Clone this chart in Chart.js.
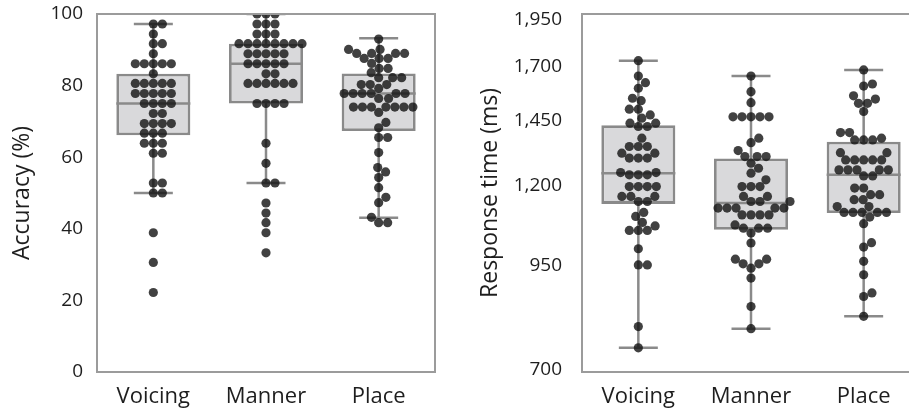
<!DOCTYPE html>
<html>
<head>
<meta charset="utf-8">
<script src="https://cdn.jsdelivr.net/npm/chart.js@4.4.1/dist/chart.umd.min.js"></script>
<style>
  body { margin: 0; background: #fff; }
  #wrap { position: relative; width: 909px; height: 409px; overflow: hidden; }
  .panel { position: absolute; top: 0; height: 409px; }
  #left { left: 0; width: 450px; }
  #right { left: 455px; width: 480px; }
</style>
</head>
<body>
<div id="wrap">
  <div class="panel" id="left"><canvas id="chartAcc"></canvas></div>
  <div class="panel" id="right"><canvas id="chartRT"></canvas></div>
</div>
<script>
// categorias
const groups = ['Voicing', 'Manner', 'Place'];

// acurácia (%) por participante
const voicingAcc = [97.2, 97.2, 94.4, 91.7, 91.7, 88.9, 86.1, 86.1, 86.1, 86.1, 86.1, 83.3,
  80.6, 80.6, 80.6, 80.6, 80.6, 77.8, 77.8, 77.8, 77.8, 77.8, 75.0, 75.0, 75.0, 75.0,
  72.2, 72.2, 69.4, 69.4, 69.4, 69.4, 66.7, 66.7, 66.7, 63.9, 63.9, 63.9, 61.1, 61.1,
  52.8, 52.8, 50.0, 50.0, 38.9, 30.6, 22.2];
const mannerAcc = [100, 100, 100, 97.2, 97.2, 97.2, 94.4, 94.4, 94.4,
  91.7, 91.7, 91.7, 91.7, 91.7, 91.7, 91.7, 91.7, 88.9, 88.9, 88.9, 88.9, 88.9,
  86.1, 86.1, 86.1, 86.1, 86.1, 83.3, 83.3, 80.6, 80.6, 80.6, 80.6, 80.6, 80.6,
  75.0, 75.0, 75.0, 75.0, 63.9, 58.3, 52.8, 52.8, 47.2, 44.4, 41.7, 38.9, 33.3];
const placeAcc = [93.0, 90.1, 90.1, 89.0, 89.0, 89.0, 89.0, 87.6, 87.6, 87.6, 86.2, 84.8, 84.8,
  83.6, 82.2, 82.2, 82.2, 80.3, 80.3, 80.3, 79.2, 77.8, 77.8, 77.8, 77.8, 77.8, 77.8,
  76.4, 76.4, 74.0, 74.0, 74.0, 74.0, 74.0, 74.0, 74.0, 72.5, 69.7, 68.2, 65.5, 65.5,
  61.3, 57.1, 55.9, 54.3, 51.5, 48.8, 47.3, 43.2, 41.7, 41.7];

// estatísticas do boxplot
const accLow = [50.0, 52.8, 43.1];
const accQ1 = [66.1, 75.0, 67.3];
const accMedian = [75.0, 86.1, 77.8];
const accQ3 = [83.3, 91.7, 83.4];
const accHigh = [97.2, 100, 93.2];
const accTicks = [0, 20, 40, 60, 80, 100];

// tempo de resposta (ms) por participante
const voicingRT = [1730, 1654, 1622, 1596, 1550, 1539, 1501, 1501, 1476, 1462, 1441, 1441,
  1427, 1427, 1379, 1346, 1346, 1346, 1320, 1320, 1301, 1301, 1301, 1247, 1247,
  1239, 1239, 1239, 1197, 1197, 1197, 1197, 1163, 1163, 1163, 1146, 1146,
  1110, 1097, 1078, 1067, 1053, 1053, 1053, 998, 952, 952, 795, 747];
const mannerRT = [1654, 1580, 1530, 1468, 1468, 1468, 1468, 1468, 1379, 1361, 1330,
  1307, 1307, 1307, 1282, 1263, 1245, 1221, 1197, 1197, 1197, 1163, 1163,
  1146, 1146, 1146, 1124, 1124, 1124, 1124, 1124, 1102, 1102, 1102, 1102,
  1070, 1060, 1060, 1060, 1045, 1015, 968, 968, 955, 955, 943, 916, 843, 790];
const placeRT = [1684, 1616, 1606, 1561, 1546, 1527, 1527, 1491, 1402, 1402, 1379,
  1372, 1372, 1372, 1322, 1322, 1294, 1294, 1294, 1294, 1294, 1257, 1257, 1257, 1257, 1257,
  1235, 1235, 1192, 1192, 1169, 1169, 1152, 1152, 1129, 1129, 1110, 1110, 1110, 1110, 1110,
  1095, 1074, 1016, 1003, 962, 925, 877, 868, 819];

const rtLow = [747, 790, 819];
const rtQ1 = [1138, 1055, 1108];
const rtMedian = [1245, 1141, 1239];
const rtQ3 = [1432, 1300, 1365];
const rtHigh = [1730, 1654, 1684];
const rtTicks = [700, 950, 1200, 1450, 1700, 1950];

// estilo
const FONT = "'Open Sans', sans-serif";
const TEXT = '#1e1e1e';
const LINE_GRAY = '#8a8a8a';
const BOX_FILL = '#d9d9db';
const DOT = 4.6;
const BOX_W = 0.657;
const CAP_HALF = 0.173;

// moldura em volta da área do gráfico
const framePlugin = {
    id: 'frame',
    afterDraw(chart) {
        const { ctx, chartArea: a } = chart;
        ctx.save();
        ctx.strokeStyle = '#9b9b9b';
        ctx.lineWidth = 2;
        ctx.strokeRect(a.left, a.top, a.right - a.left, a.bottom - a.top);
        ctx.restore();
    }
};

function whiskerData(low, high) {
    const pts = [];
    low.forEach((lo, i) => {
        pts.push({ x: i, y: lo }, { x: i, y: high[i] }, { x: i, y: null });
        pts.push({ x: i - CAP_HALF, y: high[i] }, { x: i + CAP_HALF, y: high[i] }, { x: i, y: null });
        pts.push({ x: i - CAP_HALF, y: lo }, { x: i + CAP_HALF, y: lo }, { x: i, y: null });
    });
    return pts;
}

function medianData(med) {
    const pts = [];
    med.forEach((m, i) => {
        pts.push({ x: i - BOX_W / 2, y: m }, { x: i + BOX_W / 2, y: m }, { x: i, y: null });
    });
    return pts;
}

// posições tipo "swarm" (em pixels) a partir dos valores já convertidos
function swarmOffsets(ys, d) {
    const order = ys.map((y, k) => k).sort((a, b) => ys[b] - ys[a]);
    const placed = [];
    const out = new Array(ys.length);
    order.forEach(k => {
        const y = ys[k];
        const near = placed.filter(p => Math.abs(p.y - y) < d);
        const cands = [0];
        near.forEach(p => {
            const dx = Math.sqrt(d * d - (p.y - y) * (p.y - y));
            cands.push(p.x + dx, p.x - dx);
        });
        cands.sort((a, b) => Math.abs(a) - Math.abs(b));
        let x = cands.find(c => near.every(p => (p.x - c) ** 2 + (p.y - y) ** 2 >= d * d - 0.01));
        if (x === undefined) x = cands[cands.length - 1];
        placed.push({ x, y });
        out[k] = x;
    });
    return out;
}

function applySwarm(chart, series) {
    const xs = chart.scales.x, ys = chart.scales.y;
    const unit = xs.getPixelForValue(1) - xs.getPixelForValue(0);
    const pts = [];
    series.forEach((vals, i) => {
        const off = swarmOffsets(vals.map(v => ys.getPixelForValue(v)), 9);
        vals.forEach((v, k) => pts.push({ x: i + off[k] / unit, y: v }));
    });
    chart.data.datasets[0].data = pts;
    chart.update('none');
}

function makeChart(id, cfg) {
    const chart = new Chart(document.getElementById(id), {
        type: 'bar',
        data: {
            datasets: [
                {
                    type: 'scatter',
                    data: [],
                    pointRadius: DOT,
                    pointHoverRadius: DOT,
                    backgroundColor: 'rgba(18,18,18,0.8)',
                    borderWidth: 0,
                    clip: 0,
                    order: 0
                },
                {
                    type: 'line',
                    data: medianData(cfg.median),
                    borderColor: LINE_GRAY,
                    borderWidth: 2.5,
                    pointRadius: 0,
                    spanGaps: false,
                    order: 1
                },
                {
                    type: 'bar',
                    data: cfg.q1.map((q, i) => ({ x: i, y: [q, cfg.q3[i]] })),
                    backgroundColor: BOX_FILL,
                    borderColor: LINE_GRAY,
                    borderWidth: 2.8,
                    borderSkipped: false,
                    barPercentage: BOX_W,
                    categoryPercentage: 1,
                    order: 2
                },
                {
                    type: 'line',
                    data: whiskerData(cfg.low, cfg.high),
                    borderColor: LINE_GRAY,
                    borderWidth: 2.5,
                    pointRadius: 0,
                    spanGaps: false,
                    order: 3
                }
            ]
        },
        options: {
            responsive: true,
            maintainAspectRatio: false,
            animation: false,
            layout: { padding: { top: 14, right: 15, left: 0, bottom: 0 }, autoPadding: false },
            plugins: { legend: { display: false }, tooltip: { enabled: false } },
            scales: {
                x: {
                    type: 'linear',
                    offset: false,
                    min: -0.5,
                    max: 2.5,
                    grid: { display: false },
                    border: { display: false },
                    afterBuildTicks: s => { s.ticks = groups.map((g, i) => ({ value: i })); },
                    afterFit: s => { s.height = 37; s.paddingLeft = 0; s.paddingRight = 0; },
                    ticks: {
                        callback: v => groups[v],
                        font: { family: FONT, size: 22 },
                        color: TEXT,
                        padding: 4,
                        maxRotation: 0,
                        autoSkip: false
                    }
                },
                y: cfg.y
            }
        },
        plugins: [framePlugin]
    });
    applySwarm(chart, cfg.series);
    return chart;
}

// Painel 1: acurácia
makeChart('chartAcc', {
    series: [voicingAcc, mannerAcc, placeAcc],
    low: accLow, q1: accQ1, median: accMedian, q3: accQ3, high: accHigh,
    y: {
        type: 'linear',
        min: 0,
        max: 100,
        grid: { display: false, drawTicks: false },
        border: { display: false },
        afterBuildTicks: s => { s.ticks = accTicks.map(v => ({ value: v })); },
        afterFit: s => { s.width = 97; s.paddingTop = 0; s.paddingBottom = 0; },
        ticks: { font: { family: FONT, size: 19 }, color: TEXT, padding: 14 },
        title: {
            display: true,
            text: 'Accuracy (%)',
            font: { family: FONT, size: 23 },
            color: TEXT,
            padding: { top: 9, bottom: 0 }
        }
    }
});

// Painel 2: tempo de resposta (escala log)
makeChart('chartRT', {
    series: [voicingRT, mannerRT, placeRT],
    low: rtLow, q1: rtQ1, median: rtMedian, q3: rtQ3, high: rtHigh,
    y: {
        type: 'logarithmic',
        min: 696,
        max: 1983,
        bounds: 'data',
        grid: { display: false, drawTicks: false },
        border: { display: false },
        afterBuildTicks: s => { s.ticks = rtTicks.map(v => ({ value: v })); },
        afterFit: s => { s.width = 127; s.paddingTop = 0; s.paddingBottom = 0; },
        ticks: {
            font: { family: FONT, size: 19 },
            color: TEXT,
            padding: 20,
            callback: v => v.toLocaleString('en-US')
        },
        title: {
            display: true,
            text: 'Response time (ms)',
            font: { family: FONT, size: 23 },
            color: TEXT,
            padding: { top: 22, bottom: 0 }
        }
    }
});
</script>
</body>
</html>
